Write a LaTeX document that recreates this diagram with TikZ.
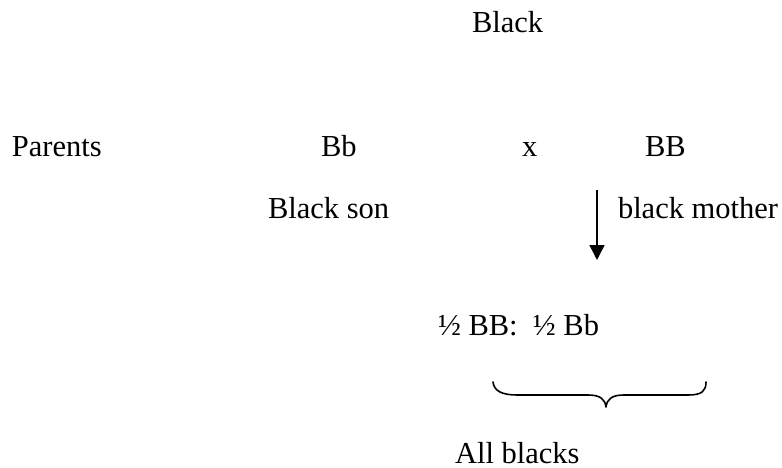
\documentclass[tikz,border=0pt]{standalone}
\usepackage{fontspec}
\setmainfont{Liberation Serif}
\usetikzlibrary{arrows.meta}
\tikzset{
  lbl/.style={anchor=base west, inner sep=0pt, outer sep=0pt, font=\fontsize{30.5}{36}\selectfont},
  conn/.style={line width=1.5pt, -{Triangle[width=15pt,length=15pt]}},
  bracepath/.style={line width=1.6pt, line cap=round, line join=round}
}
\begin{document}
\begin{tikzpicture}[x=1pt,y=-1pt]
\useasboundingbox (0,0) rectangle (782,468);
\node[lbl] (black) at (472,33) {Black};
\node[lbl] (parents) at (12,157) {Parents};
\node[lbl] (bb1) at (321,157) {Bb};
\node[lbl] (cross) at (522,157) {x};
\node[lbl] (bb2) at (645,157) {BB};
\node[lbl] (son) at (268,218) {Black son};
\node[lbl] (mother) at (618,218) {black mother};
\node[lbl] (ratio) at (438,335) {½ BB:\ \ ½ Bb};
\node[lbl] (all) at (455,463) {All blacks};
\coordinate (atop) at (597,190);
\coordinate (abot) at (597,260);
\draw[conn] (atop) -- (abot);
\coordinate (bl) at (493,382);
\coordinate (tip) at (606,407);
\coordinate (br) at (706,382);
\draw[bracepath] (bl) .. controls (494,391) and (502,395) .. (517,395)
  -- (588,395) .. controls (600,395) and (605,399) .. (tip)
  .. controls (607,399) and (612,395) .. (624,395)
  -- (688,395) .. controls (702,395) and (706,391) .. (br);
\end{tikzpicture}
\end{document}
